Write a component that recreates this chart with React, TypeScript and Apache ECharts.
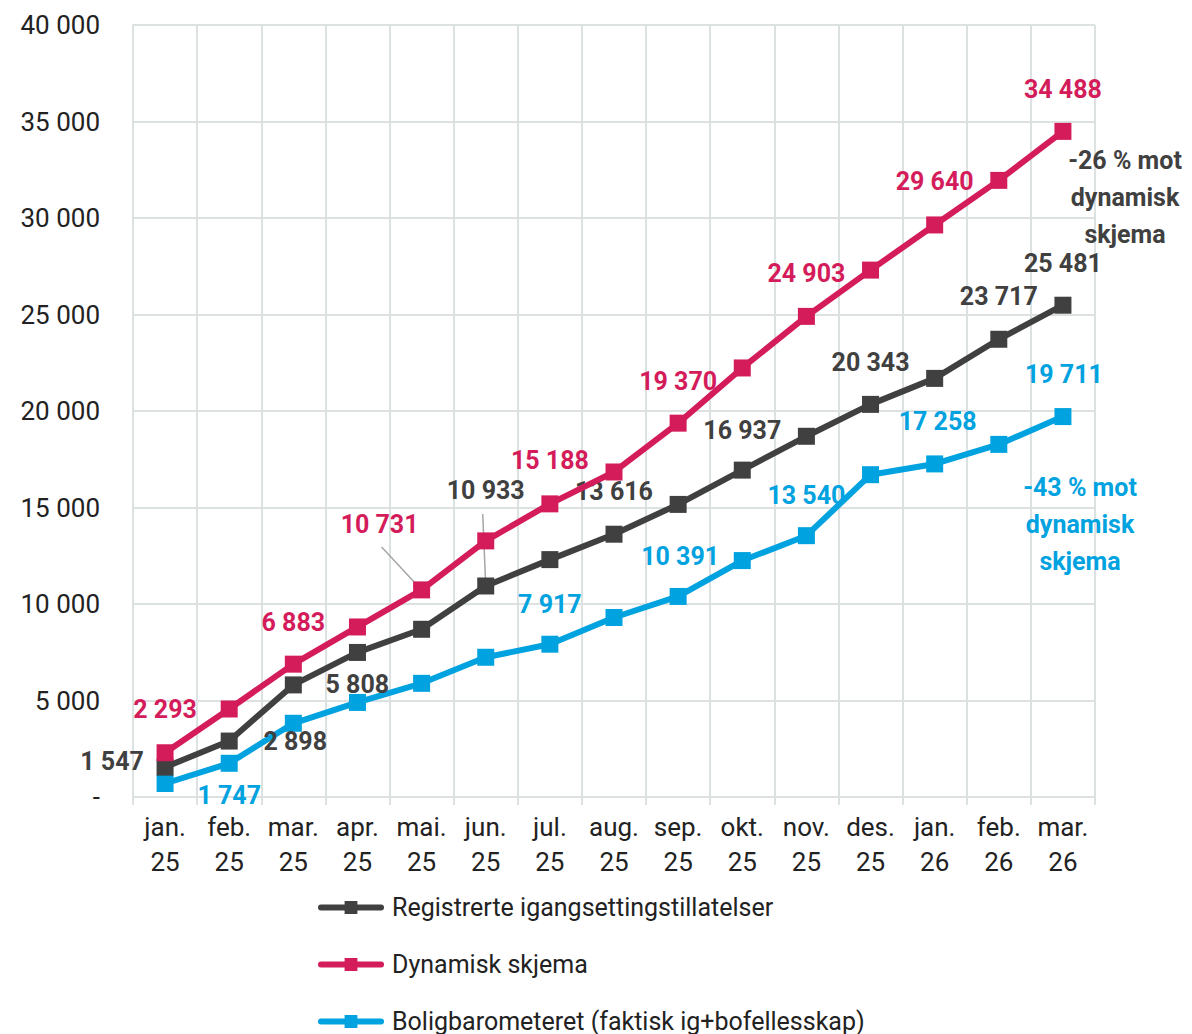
import React, { useEffect, useRef } from "react";
import * as echarts from "echarts";

const categories = [
  "jan.\n25", "feb.\n25", "mar.\n25", "apr.\n25", "mai.\n25", "jun.\n25", "jul.\n25",
  "aug.\n25", "sep.\n25", "okt.\n25", "nov.\n25", "des.\n25", "jan.\n26", "feb.\n26", "mar.\n26",
];
const registrerte = [1547, 2898, 5808, 7490, 8690, 10933, 12300, 13616, 15160, 16937, 18690, 20343, 21690, 23717, 25481];
const dynamisk = [2293, 4560, 6883, 8810, 10731, 13270, 15188, 16840, 19370, 22230, 24903, 27300, 29640, 31950, 34488];
const boligbarometer = [700, 1747, 3820, 4900, 5890, 7240, 7917, 9300, 10391, 12250, 13540, 16700, 17258, 18270, 19711];
const yTicks = [0, 5000, 10000, 15000, 20000, 25000, 30000, 35000, 40000];
const seriesNames = [
  "Registrerte igangsettingstillatelser",
  "Dynamisk skjema",
  "Boligbarometeret (faktisk ig+bofellesskap)",
];
const note26 = "-26 % mot\ndynamisk\nskjema";
const note43 = "-43 % mot\ndynamisk\nskjema";

const RED = "#D41C5B";
const DARK = "#404040";
const BLUE = "#00A2DF";
const GRID = "#DCE1E1";
const FONT = "Roboto";

const fmt = (v: number) => (v === 0 ? "-" : String(v).replace(/\B(?=(\d{3})+(?!\d))/g, " "));

// label placement (offset from point centre) per shown index
const redLabels: Record<number, number[]> = {
  0: [0, -43], 2: [0, -42], 4: [-42, -65], 6: [0, -43], 8: [0, -42], 10: [0, -43], 12: [0, -43], 14: [0, -42],
};
const darkLabels: Record<number, number[]> = {
  0: [-53, -6], 1: [66, 0], 2: [64, 0], 5: [0, -95], 7: [0, -43], 9: [0, -40], 11: [0, -42], 13: [0, -43], 14: [0, -42],
};
const blueLabels: Record<number, number[]> = {
  1: [0, 32], 6: [0, -40], 8: [2, -40], 10: [0, -40], 12: [3, -42], 14: [1, -42],
};

function buildData(values: number[], labels: Record<number, number[]>, color: string) {
  return values.map((v, i) => {
    const off = labels[i];
    if (!off) return { value: v, label: { show: false } };
    return {
      value: v,
      label: {
        show: true,
        position: "inside",
        offset: off,
        color,
        fontFamily: FONT,
        fontWeight: "bold",
        fontSize: 25,
        formatter: (p: any) => fmt(p.value),
      },
    };
  });
}

export default function App() {
  const ref = useRef<HTMLDivElement>(null);
  useEffect(() => {
    if (!ref.current) return;
    const chart = echarts.init(ref.current, null, { renderer: "svg" });
    const mkSeries = (name: string, values: number[], labels: Record<number, number[]>, color: string, z: number) => ({
      name,
      type: "line",
      data: buildData(values, labels, color),
      symbol: "rect",
      symbolSize: 17,
      z,
      itemStyle: { color },
      lineStyle: { color, width: 6 },
      emphasis: { disabled: true },
    });
    chart.setOption({
      animation: false,
      grid: { left: 133, right: 97, top: 25, bottom: 237 },
      legend: {
        orient: "vertical",
        left: 318,
        top: 895,
        height: 300,
        padding: 0,
        itemWidth: 60,
        itemHeight: 16,
        itemGap: 32,
        lineStyle: { width: 6, cap: "round" },
        textStyle: { fontFamily: FONT, fontSize: 25, lineHeight: 24, color: "#222", padding: [0, 0, 0, 6] },
        data: seriesNames,
      },
      xAxis: {
        type: "category",
        data: categories,
        boundaryGap: true,
        axisLine: { show: true, lineStyle: { color: GRID, width: 2 } },
        axisTick: { show: true, length: 8, lineStyle: { color: GRID, width: 2 } },
        splitLine: { show: true, lineStyle: { color: GRID, width: 2 } },
        axisLabel: {
          fontFamily: FONT,
          fontSize: 26,
          color: "#222",
          lineHeight: 35,
          margin: 12,
          interval: 0,
        },
      },
      yAxis: {
        type: "value",
        min: yTicks[0],
        max: yTicks[yTicks.length - 1],
        interval: yTicks[1] - yTicks[0],
        axisLine: { show: true, lineStyle: { color: GRID, width: 2 } },
        axisTick: { show: false },
        splitLine: { show: true, lineStyle: { color: GRID, width: 2 } },
        axisLabel: {
          fontFamily: FONT,
          fontSize: 26,
          color: "#222",
          margin: 33,
          formatter: (v: number) => fmt(v),
        },
      },
      series: [
        mkSeries(seriesNames[0], registrerte, darkLabels, DARK, 3),
        mkSeries(seriesNames[1], dynamisk, redLabels, RED, 4),
        mkSeries(seriesNames[2], boligbarometer, blueLabels, BLUE, 2),
      ],
    });

    const pRed = chart.convertToPixel({ seriesIndex: 1 }, [4, dynamisk[4]]) as number[];
    const pDark = chart.convertToPixel({ seriesIndex: 0 }, [5, registrerte[5]]) as number[];
    chart.setOption({
      graphic: [
        {
          type: "line",
          shape: { x1: pRed[0] - 40, y1: pRed[1] - 43, x2: pRed[0], y2: pRed[1] },
          style: { stroke: "#A6A6A6", lineWidth: 1.5 },
          z: 1,
        },
        {
          type: "line",
          shape: { x1: pDark[0] - 3, y1: pDark[1] - 72, x2: pDark[0], y2: pDark[1] },
          style: { stroke: "#A6A6A6", lineWidth: 1.5 },
          z: 1,
        },
        {
          type: "text",
          x: 1125,
          y: 142,
          style: {
            text: note26,
            textAlign: "center",
            textVerticalAlign: "top",
            fontFamily: FONT,
            fontWeight: "bold",
            fontSize: 25,
            lineHeight: 37,
            fill: DARK,
          },
        },
        {
          type: "text",
          x: 1080,
          y: 469,
          style: {
            text: note43,
            textAlign: "center",
            textVerticalAlign: "top",
            fontFamily: FONT,
            fontWeight: "bold",
            fontSize: 25,
            lineHeight: 37,
            fill: BLUE,
          },
        },
      ],
    });
    return () => chart.dispose();
  }, []);
  return <div ref={ref} style={{ width: 1192, height: 1034, position: "absolute", left: 0, top: 0 }} />;
}
